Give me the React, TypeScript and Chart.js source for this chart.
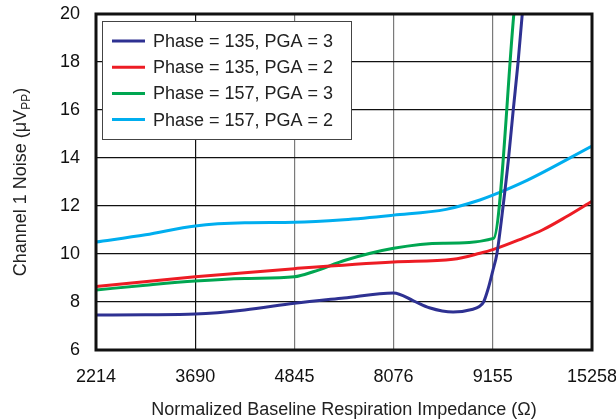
import { useEffect, useRef } from "react";
import { Chart, registerables } from "chart.js";

Chart.register(...registerables);

const FONT = '"Liberation Sans", Arial, Helvetica, sans-serif';

// Category tick labels (equally spaced on the axis)
const impedanceLabels = ["2214", "3690", "4845", "8076", "9155", "15258"];
const yMin = 6;
const yMax = 20;

const seriesLabels = [
  "Phase = 135, PGA = 3",
  "Phase = 135, PGA = 2",
  "Phase = 157, PGA = 3",
  "Phase = 157, PGA = 2",
];
const seriesColors = ["#2e3192", "#ed1c24", "#00a651", "#00aeef"];

// Positions are in category-index units along the x axis
const p135g3Pos = [0, 0.5, 1, 1.5, 2, 2.5, 3, 3.2, 3.36, 3.6, 3.8, 3.86, 3.907, 3.953, 4.0, 4.041, 4.104, 4.159, 4.206, 4.255, 4.297, 4.32];
const p135g3Noise = [7.46, 7.47, 7.5, 7.67, 7.95, 8.17, 8.38, 8.05, 7.76, 7.58, 7.7, 7.8, 8.0, 8.55, 9.3, 10, 12, 14, 16, 18, 20, 21];

const p135g2Pos = [0, 1, 2, 3, 3.6, 3.87, 4, 4.27, 4.5, 4.74, 5];
const p135g2Noise = [8.65, 9.05, 9.39, 9.67, 9.78, 10.03, 10.18, 10.6, 11.0, 11.55, 12.2];

const p157g3Pos = [0, 0.5, 1, 1.5, 2, 2.19, 2.52, 3, 3.5, 4.008, 4.212, 4.234];
const p157g3Noise = [8.5, 8.7, 8.875, 8.98, 9.05, 9.26, 9.75, 10.24, 10.45, 10.65, 20, 21];

const p157g2Pos = [0, 0.5, 1, 1.5, 2, 2.5, 3, 3.53, 3.87, 4, 4.35, 5];
const p157g2Noise = [10.5, 10.8, 11.17, 11.3, 11.32, 11.43, 11.62, 11.86, 12.25, 12.45, 13.08, 14.5];

const xTitle = "Normalized Baseline Respiration Impedance (\u03A9)";
const yTitleMain = "Channel 1 Noise (\u03BCV";
const yTitleSub = "PP";
const yTitleEnd = ")";

const seriesPos = [p135g3Pos, p135g2Pos, p157g3Pos, p157g2Pos];
const seriesNoise = [p135g3Noise, p135g2Noise, p157g3Noise, p157g2Noise];

const overlayPlugin = {
  id: "overlay",
  afterDraw(chart: any) {
    const { ctx, chartArea: a } = chart;
    ctx.save();
    // frame
    ctx.strokeStyle = "#111";
    ctx.lineWidth = 3;
    ctx.strokeRect(a.left, a.top, a.right - a.left, a.bottom - a.top);

    // legend box
    const lx = a.left + 6;
    const ly = a.top + 7;
    const lw = 249;
    const lh = 118;
    ctx.fillStyle = "#fff";
    ctx.fillRect(lx, ly, lw, lh);
    ctx.strokeStyle = "#444";
    ctx.lineWidth = 1;
    ctx.strokeRect(lx + 0.5, ly + 0.5, lw, lh);
    ctx.font = `18px ${FONT}`;
    ctx.textAlign = "left";
    ctx.textBaseline = "middle";
    seriesLabels.forEach((lab, i) => {
      const cy = ly + 20 + i * 26.2;
      ctx.strokeStyle = seriesColors[i];
      ctx.lineWidth = 3;
      ctx.beginPath();
      ctx.moveTo(lx + 10, cy);
      ctx.lineTo(lx + 43, cy);
      ctx.stroke();
      ctx.fillStyle = "#222";
      ctx.fillText(lab, lx + 51, cy + 1);
    });

    // x title
    ctx.fillStyle = "#222";
    ctx.font = `18px ${FONT}`;
    ctx.textAlign = "center";
    ctx.textBaseline = "middle";
    ctx.fillText(xTitle, (a.left + a.right) / 2, 410);

    // y title with subscript
    ctx.translate(20, (a.top + a.bottom) / 2);
    ctx.rotate(-Math.PI / 2);
    ctx.textAlign = "left";
    ctx.textBaseline = "alphabetic";
    ctx.font = `18px ${FONT}`;
    const w1 = ctx.measureText(yTitleMain).width;
    const w3 = ctx.measureText(yTitleEnd).width;
    ctx.font = `12px ${FONT}`;
    const w2 = ctx.measureText(yTitleSub).width;
    const total = w1 + w2 + w3;
    let x = -total / 2;
    const base = 6;
    ctx.font = `18px ${FONT}`;
    ctx.fillText(yTitleMain, x, base);
    x += w1;
    ctx.font = `12px ${FONT}`;
    ctx.fillText(yTitleSub, x, base + 4);
    x += w2;
    ctx.font = `18px ${FONT}`;
    ctx.fillText(yTitleEnd, x, base);
    ctx.restore();
  },
};

export default function App() {
  const ref = useRef<HTMLCanvasElement | null>(null);

  useEffect(() => {
    if (!ref.current) return;
    const datasets = seriesLabels.map((label, i) => ({
      label,
      data: seriesPos[i].map((p, j) => ({ x: p, y: seriesNoise[i][j] })),
      borderColor: seriesColors[i],
      backgroundColor: seriesColors[i],
      borderWidth: 3,
      pointRadius: 0,
      cubicInterpolationMode: "monotone" as const,
      fill: false,
    }));

    const chart = new Chart(ref.current, {
      type: "line",
      data: { datasets },
      plugins: [overlayPlugin],
      options: {
        responsive: false,
        animation: false,
        layout: { padding: 0 },
        plugins: {
          legend: { display: false },
          tooltip: { enabled: false },
          title: { display: false },
        },
        scales: {
          x: {
            type: "linear",
            min: 0,
            max: impedanceLabels.length - 1,
            afterFit: (s: any) => {
              s.height = 69;
              s.paddingLeft = 0;
              s.paddingRight = 24;
            },
            border: { display: false },
            grid: {
              drawTicks: false,
              lineWidth: 1.2,
              color: (c: any) => (c.index === 1 ? "#111" : "#7a7a7a"),
            },
            ticks: {
              stepSize: 1,
              autoSkip: false,
              maxRotation: 0,
              padding: 16,
              color: "#111",
              font: { family: FONT, size: 18 },
              callback: (v: any) => impedanceLabels[Math.round(Number(v))] ?? "",
            },
          },
          y: {
            min: yMin,
            max: yMax,
            afterFit: (s: any) => {
              s.width = 96;
              s.paddingTop = 14;
              s.paddingBottom = 0;
            },
            border: { display: false },
            grid: { drawTicks: false, lineWidth: 1.2, color: "#111" },
            ticks: {
              stepSize: 2,
              padding: 16,
              color: "#111",
              font: { family: FONT, size: 18 },
            },
          },
        },
      },
    });
    return () => chart.destroy();
  }, []);

  return (
    <div style={{ position: "absolute", left: 0, top: 0, width: 616, height: 419, background: "#fff" }}>
      <canvas ref={ref} width={616} height={419} />
    </div>
  );
}
